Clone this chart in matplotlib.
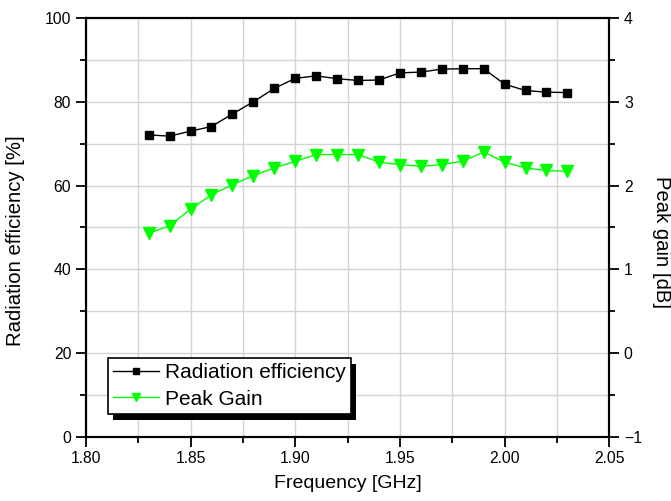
import matplotlib
matplotlib.use("Agg")
import matplotlib.pyplot as plt
from matplotlib.patches import Rectangle
from matplotlib.ticker import MultipleLocator

plt.rcParams['font.family'] = ['Liberation Sans', 'DejaVu Sans']

# data
freq = [1.83, 1.84, 1.85, 1.86, 1.87, 1.88, 1.89, 1.90, 1.91, 1.92, 1.93,
        1.94, 1.95, 1.96, 1.97, 1.98, 1.99, 2.00, 2.01, 2.02, 2.03]
efficiency = [72.1, 71.8, 73.0, 74.1, 77.1, 80.0, 83.2, 85.6, 86.2, 85.5, 85.1,
              85.2, 86.9, 87.1, 87.8, 87.9, 87.9, 84.2, 82.7, 82.3, 82.2]
gain = [1.43, 1.52, 1.72, 1.89, 2.01, 2.12, 2.21, 2.29, 2.37, 2.37, 2.37,
        2.28, 2.25, 2.23, 2.25, 2.29, 2.40, 2.28, 2.21, 2.18, 2.17]

fig = plt.figure(figsize=(6.71, 5.01), dpi=100)
ax = fig.add_axes([0.128, 0.128, 0.780, 0.836])
ax2 = ax.twinx()

l1, = ax.plot(freq, efficiency, color='black', lw=1, marker='s', ms=5.8,
              label='Radiation efficiency')
l2, = ax2.plot(freq, gain, color='#00ff00', lw=1, marker='v', ms=8,
               label='Peak Gain')

ax.set_xlim(1.80, 2.05)
ax.set_ylim(0, 100)
ax2.set_ylim(-1, 4)

ax.xaxis.set_major_locator(MultipleLocator(0.05))
ax.xaxis.set_minor_locator(MultipleLocator(0.025))
ax.yaxis.set_major_locator(MultipleLocator(20))
ax.yaxis.set_minor_locator(MultipleLocator(10))
ax2.yaxis.set_major_locator(MultipleLocator(1))
ax2.yaxis.set_minor_locator(MultipleLocator(0.5))
ax.xaxis.set_major_formatter(matplotlib.ticker.FormatStrFormatter('%.2f'))

ax.grid(True, which='both', color='#d4d4d4', lw=1)
ax.set_axisbelow(True)

for a in (ax, ax2):
    a.tick_params(which='major', length=7, width=1.3, labelsize=11.3)
    a.tick_params(which='minor', length=4, width=1.3)
    for s in a.spines.values():
        s.set_linewidth(1.5)
ax.tick_params(axis='x', which='both', top=False)

ax.set_xlabel('Frequency [GHz]', fontsize=14, labelpad=6)
ax.set_ylabel('Radiation efficiency [%]', fontsize=14.6, labelpad=14)
ax.yaxis.label.set_y(0.469)
ax2.set_ylabel('Peak gain [dB]', fontsize=14.6, rotation=270, labelpad=21)
ax2.yaxis.label.set_y(0.465)

leg = ax2.legend([l1, l2], ['Radiation efficiency', 'Peak Gain'],
                 loc='lower left', bbox_to_anchor=(0.042, 0.055),
                 fontsize=15, fancybox=False, framealpha=1, edgecolor='black',
                 borderpad=0.25, labelspacing=0.35, handlelength=2.2,
                 handletextpad=0.3, borderaxespad=0, markerscale=0.75)
leg.get_frame().set_linewidth(1.2)
leg.set_zorder(6)

# solid black drop shadow behind the legend box
fig.canvas.draw()
bb = leg.get_window_extent()
shadow = Rectangle((bb.x0 + 5, bb.y0 - 6), bb.width, bb.height,
                   transform=None, facecolor='black', edgecolor='none', zorder=5.5)
ax2.add_artist(shadow)

fig.savefig('out.png', dpi=100)
